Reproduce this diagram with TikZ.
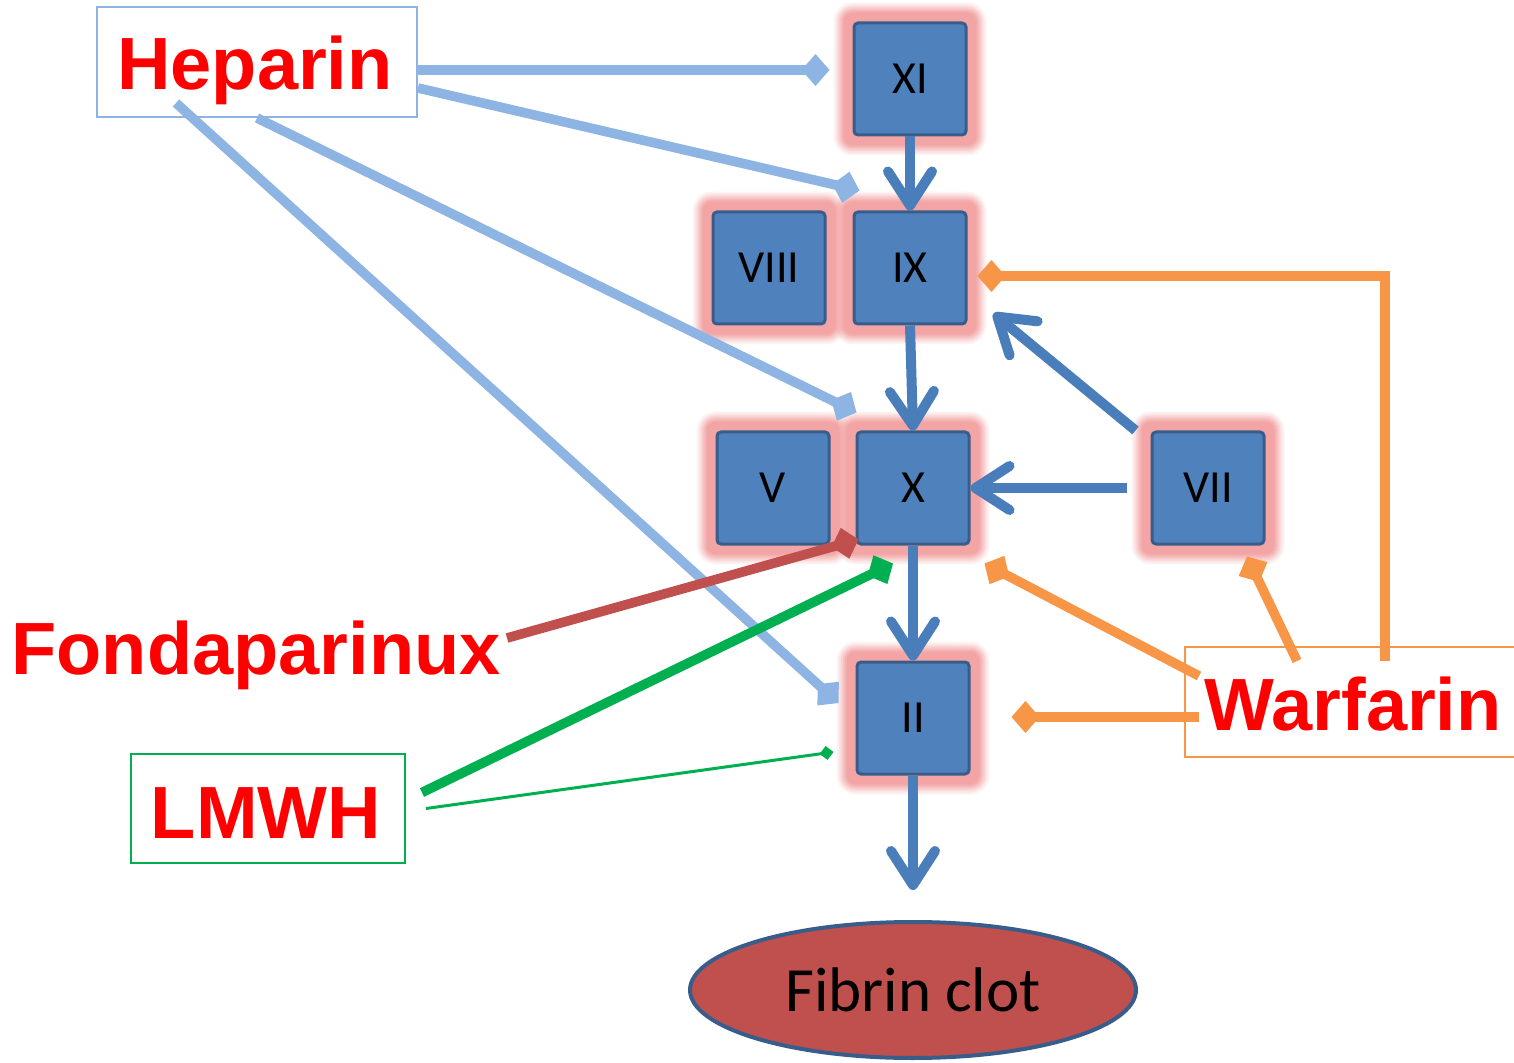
\documentclass[tikz,border=0pt]{standalone}
\usepackage{fontspec}
\usetikzlibrary{arrows.meta,shapes.geometric,backgrounds}
\newfontfamily\drugfont{Liberation Sans}
\newfontfamily\calfont{Carlito}
\definecolor{boxfill}{HTML}{4F81BD}
\definecolor{boxline}{HTML}{385D8A}
\definecolor{glowc}{HTML}{F2A0A0}
\definecolor{darrow}{HTML}{4A7EBB}
\definecolor{lblue}{HTML}{8EB4E3}
\definecolor{worange}{HTML}{F79646}
\definecolor{lgreen}{HTML}{00B050}
\definecolor{fred}{HTML}{C0504D}
\tikzset{
  factor/.style={draw=boxline, fill=boxfill, line width=1.5pt, rounded corners=2pt,
    minimum width=56pt, minimum height=56pt, inner sep=0pt,
    font=\calfont\fontsize{23}{23}\selectfont},
  drug/.style={text=red, inner sep=0pt, font=\drugfont\bfseries\fontsize{37}{37}\selectfont},
  drugbox/.style={draw=#1, line width=1pt, inner sep=0pt},
  act/.style={draw=darrow, line width=5pt, -{Straight Barb[length=17pt,width=22pt,round]}},
  inhib/.style={draw=#1, line width=4.8pt, line join=miter, -{Diamond[length=14pt,width=16pt]}},
}
\newcommand\glowlayer[3]{%
  \fill[glowc,opacity=#3,rounded corners=#2] ([shift={(-#2,#2)}]#1.north west) rectangle ([shift={(#2,-#2)}]#1.south east);}
\newcommand\glowbox[1]{%
  \glowlayer{#1}{9.5pt}{0.12}\glowlayer{#1}{8.5pt}{0.18}\glowlayer{#1}{7.5pt}{0.25}%
  \glowlayer{#1}{6.5pt}{0.35}\glowlayer{#1}{5.5pt}{0.5}\glowlayer{#1}{4.5pt}{0.7}}
\begin{document}
\begin{tikzpicture}[x=0.5pt,y=-0.5pt]
\useasboundingbox (0,0) rectangle (1514,1063);
% factors
\node[factor] (xi)   at (910,79)   {XI};
\node[factor] (viii) at (769,268)  {VIII};
\node[factor] (ix)   at (910,268)  {IX};
\node[factor] (v)    at (773,488)  {V};
\node[factor] (x)    at (913,488)  {X};
\node[factor] (vii)  at (1208,488) {VII};
\node[factor] (ii)   at (913,718)  {II};
\begin{scope}[on background layer]
  \glowbox{xi}\glowbox{viii}\glowbox{ix}\glowbox{v}\glowbox{x}\glowbox{vii}\glowbox{ii}
\end{scope}
% clot
\node[ellipse, draw=boxline, fill=fred, line width=2pt, minimum width=223pt, minimum height=68pt,
  inner sep=0pt, font=\calfont\fontsize{31.5}{31.5}\selectfont] (clot) at (913,990) {Fibrin clot};
% drugs
\node[drugbox=lblue, minimum width=160pt, minimum height=55pt] (hep) at (257,62) {};
\node[drug, anchor=base] (heptxt) at (255,90) {Heparin};
\node[drug, anchor=base] (fon) at (256,674) {Fondaparinux};
\node[drugbox=lgreen, minimum width=137pt, minimum height=54.5pt] (lm) at (268,808.5) {};
\node[drug, anchor=base] (lmtxt) at (266,838) {LMWH};
\node[drugbox=worange, minimum width=168pt, minimum height=55pt] (war) at (1353,702) {};
\node[drug, anchor=base] (wartxt) at (1353,730) {Warfarin};
% activation arrows
\draw[act] (xi.south) -- (ix.north);
\draw[act] (ix.south) -- (x.north);
\draw[act] (x.south) -- (ii.north);
\draw[act] (ii.south) -- ([yshift=15pt]clot.north);
\draw[act, shorten <=12pt] (vii.west) -- (x.east);
\draw[act] ([xshift=-7.5pt]vii.north west) -- ([shift={(13pt,6pt)}]ix.south east);
% heparin
\draw[inhib=lblue] ([yshift=-4pt]hep.east) -- ([shift={(-11.5pt,4.5pt)}]xi.west);
\draw[inhib=lblue] ([yshift=-13pt]hep.east) -- ([shift={(3.5pt,10pt)}]ix.north west);
\draw[inhib=lblue] (hep.south) -- ([shift={(0.5pt,9pt)}]x.north west);
\draw[inhib=lblue] ([shift={(40pt,7.5pt)}]hep.south west) -- ([shift={(-8.5pt,7.5pt)}]ii.west);
% fondaparinux
\draw[inhib=fred] ([shift={(3pt,18pt)}]fon.base east) -- ([shift={(1.5pt,3pt)}]x.south west);
% LMWH
\draw[inhib=lgreen] ([shift={(8pt,8pt)}]lm.east) -- ([shift={(-10pt,-9pt)}]x.south);
\draw[draw=lgreen, line width=1.5pt, -{Diamond[length=7pt,width=7pt]}] ([xshift=10pt]lm.east) -- ([shift={(-11pt,-17pt)}]ii.west);
% warfarin
\draw[inhib=worange] ([shift={(16pt,-7.5pt)}]war.north) |- ([shift={(5pt,-4pt)}]ix.east);
\draw[inhib=worange] ([shift={(7.5pt,-15pt)}]war.north west) -- ([shift={(7pt,-9pt)}]x.south east);
\draw[inhib=worange] ([shift={(-28pt,-7.5pt)}]war.north) -- ([shift={(19.5pt,-5.5pt)}]vii.south);
\draw[inhib=worange] ([shift={(7.5pt,-7.5pt)}]war.west) -- ([shift={(20.5pt,0.5pt)}]ii.east);
\end{tikzpicture}
\end{document}
